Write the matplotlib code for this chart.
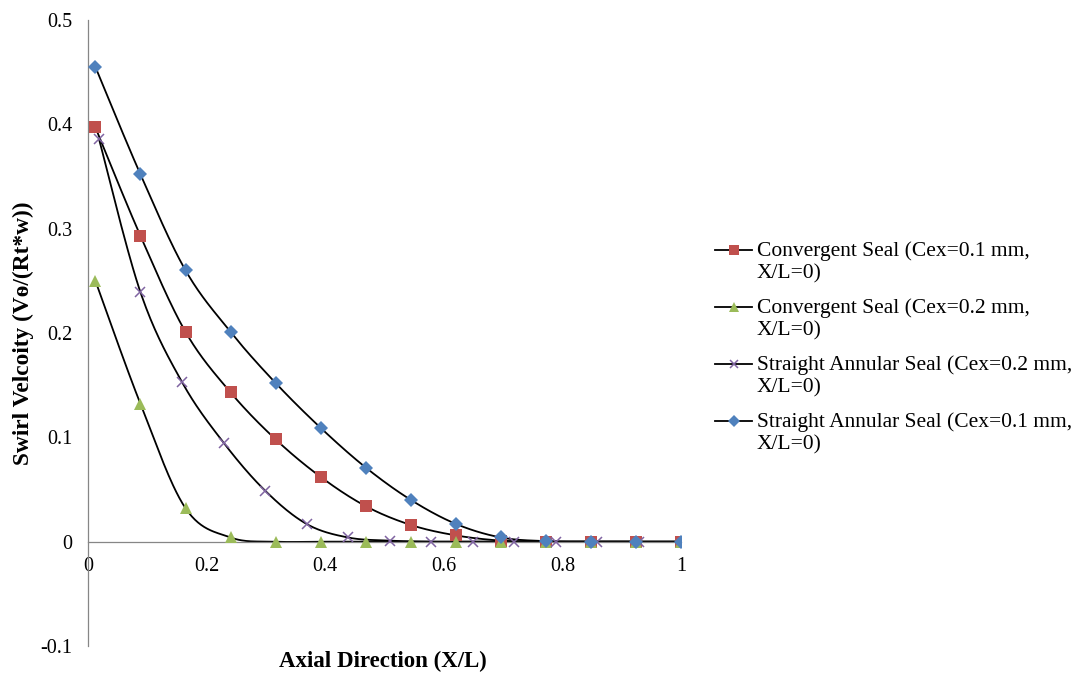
import numpy as np
import matplotlib
matplotlib.use("Agg")
import matplotlib.pyplot as plt
from matplotlib.lines import Line2D

plt.rcParams['font.family'] = ['Liberation Serif', 'DejaVu Serif']

# Axial stations (X/L)
x_grid = [0.0125, 0.0885, 0.1645, 0.2405, 0.3165, 0.3925, 0.4685,
          0.5445, 0.6205, 0.6965, 0.7725, 0.8485, 0.9245, 1.0]
x_straight_02 = [0.0185, 0.0885, 0.1585, 0.2285, 0.2985, 0.3685, 0.4385,
                 0.5085, 0.5785, 0.6485, 0.7185, 0.7885, 0.8585, 0.9285]

# Swirl velocity Vθ/(Rt*w)
conv_01 = [0.397, 0.293, 0.201, 0.143, 0.098, 0.062, 0.034,
           0.016, 0.006, 0.001, 0.0, 0.0, 0.0, 0.0]
conv_02 = [0.250, 0.132, 0.032, 0.004, 0.0, 0.0, 0.0,
           0.0, 0.0, 0.0, 0.0, 0.0, 0.0, 0.0]
straight_02 = [0.386, 0.239, 0.153, 0.095, 0.049, 0.017, 0.004,
               0.001, 0.0, 0.0, 0.0, 0.0, 0.0, 0.0]
straight_01 = [0.455, 0.352, 0.260, 0.201, 0.152, 0.109, 0.071,
               0.040, 0.017, 0.004, 0.0005, 0.0, 0.0, 0.0]

labels = ["Convergent Seal (Cex=0.1 mm,\nX/L=0)",
          "Convergent Seal (Cex=0.2 mm,\nX/L=0)",
          "Straight Annular Seal (Cex=0.2 mm,\nX/L=0)",
          "Straight Annular Seal (Cex=0.1 mm,\nX/L=0)"]

x_ticks = [0, 0.2, 0.4, 0.6, 0.8, 1]
x_tick_labels = ["0", "0.2", "0.4", "0.6", "0.8", "1"]
y_ticks = [-0.1, 0, 0.1, 0.2, 0.3, 0.4, 0.5]
y_tick_labels = ["-0.1", "0", "0.1", "0.2", "0.3", "0.4", "0.5"]


def smooth(xs, ys, n=30, t=1.0 / 6.0):
    """Piecewise cubic Bezier through the points (spreadsheet-style smoothing)."""
    p = np.column_stack([xs, ys]).astype(float)
    m = len(p)
    out = []
    for i in range(m - 1):
        p0 = p[i - 1] if i > 0 else p[i]
        p1 = p[i]
        p2 = p[i + 1]
        p3 = p[i + 2] if i + 2 < m else p[i + 1]
        c1 = p1 + (p2 - p0) * t
        c2 = p2 - (p3 - p1) * t
        s = np.linspace(0, 1, n)[:, None]
        seg = ((1 - s) ** 3) * p1 + 3 * ((1 - s) ** 2) * s * c1 \
            + 3 * (1 - s) * s ** 2 * c2 + s ** 3 * p2
        out.append(seg if i == 0 else seg[1:])
    out = np.vstack(out)
    return out[:, 0], out[:, 1]


W, H = 1079, 677
fig = plt.figure(figsize=(W / 100, H / 100), dpi=100)
ax = fig.add_axes([88 / W, 1 - 646 / H, (681 - 88) / W, (646 - 20) / H])

series = [
    (x_grid, conv_01, dict(marker='s', color='#C0504D', ms=8.3)),
    (x_grid, conv_02, dict(marker='^', color='#9BBB59', ms=8.3)),
    (x_straight_02, straight_02, dict(marker='x', color='#8064A2', ms=7, mew=1.1)),
    (x_grid, straight_01, dict(marker='D', color='#4F81BD', ms=7.4)),
]

for i, (xs, ys, st) in enumerate(series):
    sx, sy = smooth(xs, ys)
    ax.plot(sx, sy, color='black', lw=1.3, zorder=2 + i * 0.1)
for i, (xs, ys, st) in enumerate(series):
    mew = st.get('mew', 0)
    ax.plot(xs, ys, ls='none', marker=st['marker'], ms=st['ms'],
            mfc=st['color'], mec=st['color'], mew=mew, zorder=3 + i * 0.1)

ax.set_xlim(0, 1)
ax.set_ylim(-0.1, 0.5)
ax.set_xticks(x_ticks)
ax.set_xticklabels(x_tick_labels)
ax.set_yticks(y_ticks)
ax.set_yticklabels(y_tick_labels)
ax.tick_params(axis='both', length=0, labelsize=14.5)
ax.tick_params(axis='x', pad=11)
ax.tick_params(axis='y', pad=11.5)

for side in ('top', 'right'):
    ax.spines[side].set_visible(False)
ax.spines['bottom'].set_position(('data', 0))
ax.spines['left'].set_color('#868686')
ax.spines['bottom'].set_color('#868686')
ax.spines['left'].set_linewidth(0.9)
ax.spines['bottom'].set_linewidth(0.9)
ax.patch.set_alpha(0)

fig.text(383 / W, 1 - 661 / H, "Axial Direction (X/L)", fontsize=16.5,
         fontweight='bold', ha='center', va='center')
fig.text(23 / W, 1 - 333 / H, "Swirl Velcoity (Vѳ/(Rt*w))", fontsize=16.8,
         fontweight='bold', ha='center', va='center', rotation=90,
         family=['Liberation Serif', 'DejaVu Serif'])

# Legend drawn entry by entry
entry_tops = [250, 307, 364, 421]
for (xs, ys, st), lab, yc in zip(series, labels, entry_tops):
    yf = 1 - yc / H
    fig.add_artist(Line2D([715 / W, 752 / W], [yf, yf], color='black', lw=1.3,
                          transform=fig.transFigure))
    fig.add_artist(Line2D([733.5 / W], [yf], ls='none', marker=st['marker'],
                          ms=st['ms'] * 0.85, mfc=st['color'], mec=st['color'],
                          mew=st.get('mew', 0), transform=fig.transFigure))
    fig.text(757 / W, yf + 9 / H, lab, fontsize=15.5, ha='left', va='top',
             linespacing=1.25)

fig.savefig("out.png", dpi=100)
